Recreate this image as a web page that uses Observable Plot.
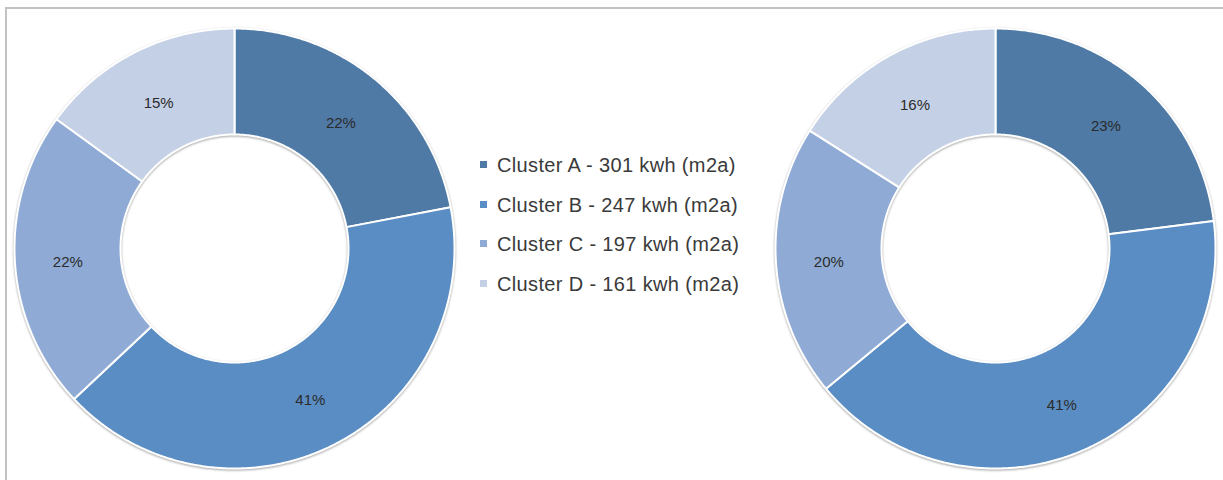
<!DOCTYPE html>
<html><head><meta charset="utf-8">
<script src="https://cdn.jsdelivr.net/npm/d3@7"></script>
<script src="https://cdn.jsdelivr.net/npm/@observablehq/plot@0.6"></script>
<style>
body{margin:0;overflow:hidden;background:#fff;font-family:"Liberation Sans",Arial,sans-serif;}
#wrap{position:relative;width:1223px;height:480px;overflow:hidden}
#chart{position:absolute;left:0;top:0}
#frame{position:absolute;left:5px;top:7px;width:1300px;height:600px;border:2px solid #c2c2c2;box-sizing:border-box;z-index:2;pointer-events:none}
#legend{position:absolute;left:480px;top:146px;z-index:3}
.row{height:39.5px;display:flex;align-items:center;font-size:20px;color:#3a3a3a;letter-spacing:.35px;white-space:nowrap}
.sw{width:7px;height:7px;margin-right:10px;position:relative;top:-1px}
g[aria-label="geo"]{filter:drop-shadow(0 1px 1.2px rgba(0,0,0,.35))}
</style></head><body>
<div id="wrap"><div id="chart"></div><div id="frame"></div><div id="legend"></div></div>
<script>
const clusters = ["Cluster A - 301 kwh (m2a)", "Cluster B - 247 kwh (m2a)", "Cluster C - 197 kwh (m2a)", "Cluster D - 161 kwh (m2a)"];
const colors = ["#4f7aa6", "#5a8dc3", "#8fabd5", "#c4d0e5"];
const leftShares = [22, 41, 22, 15];
const rightShares = [23, 41, 20, 16];

const W = 1223, H = 480;
const R1 = 220, R0 = 114, RL = 167;

function ring(values, cx, cy, side) {
  const arcs = d3.pie().sort(null)(values);
  return arcs.map((a, i) => {
    const span = a.endAngle - a.startAngle;
    const n = Math.max(2, Math.ceil(span / (Math.PI / 360)));
    const outer = d3.range(n + 1).map(k => {
      const t = a.startAngle + span * k / n;
      return [cx + R1 * Math.sin(t), cy - R1 * Math.cos(t)];
    });
    const inner = d3.range(n, -1, -1).map(k => {
      const t = a.startAngle + span * k / n;
      return [cx + R0 * Math.sin(t), cy - R0 * Math.cos(t)];
    });
    const mid = (a.startAngle + a.endAngle) / 2;
    return {
      type: "Feature",
      properties: {
        side, cluster: clusters[i], value: values[i],
        lx: cx + RL * Math.sin(mid), ly: cy - RL * Math.cos(mid)
      },
      geometry: {type: "Polygon", coordinates: [[...outer, ...inner, outer[0]]]}
    };
  });
}

const slices = [
  ...ring(leftShares, 234, 248, "left"),
  ...ring(rightShares, 995, 248, "right")
];
const labels = slices.map(f => f.properties);

const plot = Plot.plot({
  width: W, height: H,
  margin: 0,
  projection: d3.geoIdentity(),
  color: {domain: clusters, range: colors},
  marks: [
    Plot.geo(slices, {fill: d => d.properties.cluster, stroke: "white", strokeWidth: 2}),
    Plot.text(labels, {x: "lx", y: "ly", dy: 3, text: d => d.value + "%", fontSize: 15, fill: "#2b2b2b", fontFamily: "Liberation Sans, Arial, sans-serif"})
  ]
});
document.getElementById("chart").appendChild(plot);

const legend = document.getElementById("legend");
clusters.forEach((c, i) => {
  const row = document.createElement("div");
  row.className = "row";
  const sw = document.createElement("span");
  sw.className = "sw";
  sw.style.background = colors[i];
  const tx = document.createElement("span");
  tx.textContent = c;
  row.appendChild(sw); row.appendChild(tx);
  legend.appendChild(row);
});
</script>
</body></html>
